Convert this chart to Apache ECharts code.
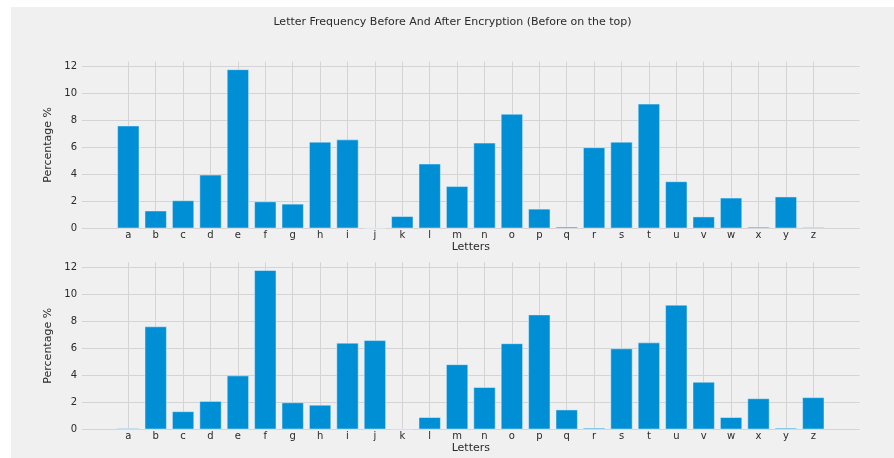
<!DOCTYPE html>
<html>
<head>
<meta charset="utf-8">
<script src="https://cdn.jsdelivr.net/npm/echarts@6/dist/echarts.min.js"></script>
<style>
html,body{margin:0;padding:0;background:#ffffff;width:894px;height:458px;overflow:hidden;}
#chart{position:absolute;left:11px;top:7px;width:883px;height:451px;}
</style>
</head>
<body>
<div id="chart"></div>
<script>
const letters = ['a','b','c','d','e','f','g','h','i','j','k','l','m','n','o','p','q','r','s','t','u','v','w','x','y','z'];
const beforeValues = [7.60,1.30,2.06,3.96,11.77,1.98,1.81,6.40,6.57,0.02,0.89,4.78,3.11,6.33,8.47,1.44,0.11,5.99,6.40,9.22,3.47,0.86,2.26,0.10,2.34,0.07];
const afterValues  = [0.07,7.60,1.32,2.08,3.97,11.76,1.98,1.80,6.39,6.58,0.04,0.89,4.80,3.11,6.35,8.48,1.45,0.10,5.97,6.41,9.20,3.50,0.89,2.28,0.10,2.36];
const yTicks = [0,2,4,6,8,10,12];
const title = 'Letter Frequency Before And After Encryption (Before on the top)';

const idx = letters.map((_, i) => i);
const FONT = 'DejaVu Sans';
const TXT = '#2a2a2a';
const GRID = '#d4d4d4';

function xAxisDef(gridIndex) {
  return {
    type: 'value', gridIndex: gridIndex, min: -1.69, max: 26.69,
    name: 'Letters', nameLocation: 'middle', nameGap: 13,
    nameTextStyle: {fontFamily: FONT, fontSize: 11, color: TXT},
    axisLine: {show: false},
    axisTick: {show: false, customValues: idx},
    axisLabel: {customValues: idx, formatter: v => letters[Math.round(v)], fontFamily: FONT, fontSize: 10, color: TXT, margin: 2},
    splitLine: {show: true, lineStyle: {color: GRID, width: 1}}
  };
}
function yAxisDef(gridIndex) {
  return {
    type: 'value', gridIndex: gridIndex, min: 0, max: 12.35,
    name: 'Percentage %', nameLocation: 'middle', nameGap: 17, nameRotate: 90,
    nameTextStyle: {fontFamily: FONT, fontSize: 11, color: TXT},
    axisLine: {show: false},
    axisTick: {show: false, customValues: yTicks},
    axisLabel: {customValues: yTicks, fontFamily: FONT, fontSize: 10, color: TXT, margin: 5},
    splitLine: {show: true, lineStyle: {color: GRID, width: 1}}
  };
}
function barSeries(i, vals) {
  return {
    type: 'bar', xAxisIndex: i, yAxisIndex: i,
    data: vals.map((v, k) => [k, v]),
    barWidth: 21.9,
    itemStyle: {color: '#008fd5', borderColor: '#e6f2f8', borderWidth: 0.5},
    silent: true, animation: false
  };
}

const chart = echarts.init(document.getElementById('chart'), null, {renderer: 'canvas'});
chart.setOption({
  backgroundColor: '#f0f0f0',
  animation: false,
  title: {
    text: title, left: 'center', top: 5,
    textStyle: {fontFamily: FONT, fontSize: 11, fontWeight: 'normal', color: TXT}
  },
  grid: [
    {left: 71, right: 34.4, top: 54.6, height: 166.7},
    {left: 71, right: 34.4, top: 255.3, height: 167}
  ],
  xAxis: [xAxisDef(0), xAxisDef(1)],
  yAxis: [yAxisDef(0), yAxisDef(1)],
  series: [barSeries(0, beforeValues), barSeries(1, afterValues)]
});
</script>
</body>
</html>
